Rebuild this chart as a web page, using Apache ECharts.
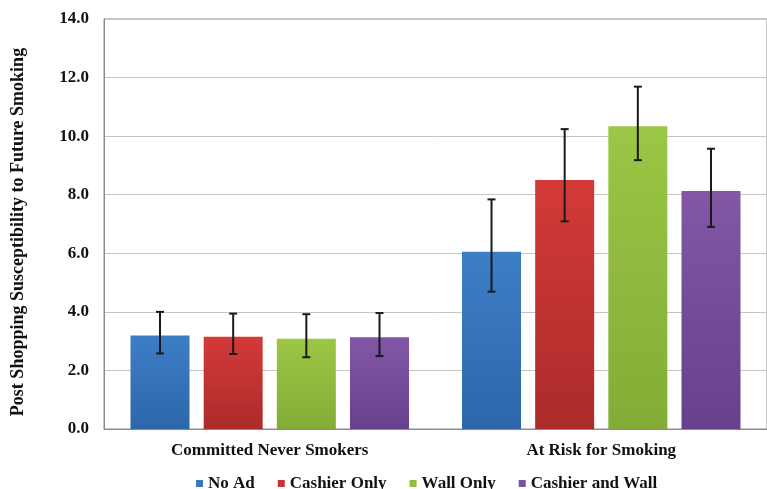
<!DOCTYPE html>
<html>
<head>
<meta charset="utf-8">
<script src="https://cdn.jsdelivr.net/npm/echarts@6/dist/echarts.min.js"></script>
<style>
  html, body { margin: 0; padding: 0; background: #fff; }
  #main { width: 767px; height: 489px; }
</style>
</head>
<body>
<div id="main"></div>
<script>
var groups = ['Committed Never Smokers', 'At Risk for Smoking'];
var seriesNames = ['No Ad', 'Cashier Only', 'Wall Only', 'Cashier and Wall'];

// mean values per series, one per group
var noAd = [3.19, 6.05];
var cashierOnly = [3.15, 8.50];
var wallOnly = [3.08, 10.34];
var cashierWall = [3.13, 8.13];

// error bar ends (low, high) per series
var noAdErr = [[2.58, 4.00], [4.69, 7.84]];
var cashierOnlyErr = [[2.56, 3.94], [7.09, 10.24]];
var wallOnlyErr = [[2.45, 3.92], [9.18, 11.69]];
var cashierWallErr = [[2.49, 3.96], [6.90, 9.57]];

var yTicks = [0, 2, 4, 6, 8, 10, 12, 14];

var values = [noAd, cashierOnly, wallOnly, cashierWall];
var errs = [noAdErr, cashierOnlyErr, wallOnlyErr, cashierWallErr];
var colorStops = [
  ['#3d7ec6', '#2d66ab'],
  ['#d33a38', '#ac2b2b'],
  ['#9cc645', '#83ac36'],
  ['#8157a6', '#66418c']
];
var legendColors = ['#3a78c2', '#c83434', '#92bf40', '#7a50a0'];

var barWidth = 59;
var barGapRatio = 0.24;
var font = "'Liberation Serif', 'Times New Roman', serif";

var series = [];
values.forEach(function (vals, i) {
  series.push({
    name: seriesNames[i],
    type: 'bar',
    barWidth: barWidth,
    barGap: (barGapRatio * 100) + '%',
    itemStyle: {
      color: new echarts.graphic.LinearGradient(0, 0, 0, 1, [
        { offset: 0, color: colorStops[i][0] },
        { offset: 1, color: colorStops[i][1] }
      ])
    },
    data: vals
  });
});

errs.forEach(function (errData, i) {
  var offset = (i - 1.5) * barWidth * (1 + barGapRatio);
  series.push({
    type: 'custom',
    name: seriesNames[i] + ' error',
    z: 10,
    silent: true,
    renderItem: function (params, api) {
      var lowPt = api.coord([api.value(0), api.value(1)]);
      var highPt = api.coord([api.value(0), api.value(2)]);
      var x = lowPt[0] + offset;
      var cap = 4;
      var style = { stroke: '#1a1a1a', lineWidth: 2 };
      return {
        type: 'group',
        children: [
          { type: 'line', shape: { x1: x, y1: highPt[1], x2: x, y2: lowPt[1] }, style: style },
          { type: 'line', shape: { x1: x - cap, y1: highPt[1], x2: x + cap, y2: highPt[1] }, style: style },
          { type: 'line', shape: { x1: x - cap, y1: lowPt[1], x2: x + cap, y2: lowPt[1] }, style: style }
        ]
      };
    },
    encode: { x: 0, y: [1, 2] },
    data: errData.map(function (e, j) { return [j, e[0], e[1]]; })
  });
});

var chart = echarts.init(document.getElementById('main'));
chart.setOption({
  backgroundColor: '#ffffff',
  animation: false,
  grid: {
    left: 104, right: -1, top: 19, bottom: 60,
    show: true, borderColor: '#8e8a8a', borderWidth: 1
  },
  legend: {
    data: seriesNames.map(function (n, i) {
      return { name: n, itemStyle: { color: legendColors[i] } };
    }),
    left: 191,
    top: 470,
    itemWidth: 7,
    itemHeight: 7,
    itemGap: 23,
    icon: 'rect',
    textStyle: { fontFamily: font, fontWeight: 'bold', fontSize: 17, color: '#111' }
  },
  xAxis: {
    type: 'category',
    data: groups,
    axisTick: { show: false },
    axisLine: { lineStyle: { color: '#8e8a8a' } },
    axisLabel: { margin: 13, fontFamily: font, fontWeight: 'bold', fontSize: 17, color: '#111' }
  },
  yAxis: {
    type: 'value',
    min: yTicks[0],
    max: yTicks[yTicks.length - 1],
    interval: 2,
    name: 'Post Shopping Susceptibility to Future Smoking',
    nameLocation: 'middle',
    nameGap: 77,
    nameTextStyle: {
      fontFamily: font, fontWeight: 'bold', fontSize: 18, color: '#111',
      padding: [0, 16, 0, 0]
    },
    axisLine: { show: true, lineStyle: { color: '#8e8a8a' } },
    axisTick: { show: false },
    axisLabel: {
      margin: 15,
      fontFamily: font, fontWeight: 'bold', fontSize: 17, color: '#111',
      formatter: function (v) { return v.toFixed(1); }
    },
    splitLine: { lineStyle: { color: '#cdc2c2' } }
  },
  series: series
});
</script>
</body>
</html>
